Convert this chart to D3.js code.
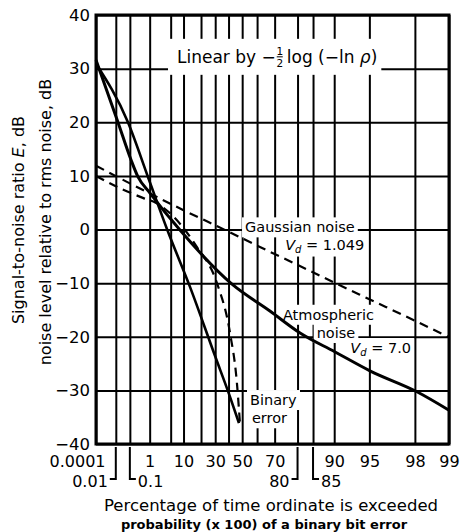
<!DOCTYPE html>
<html>
<head>
<meta charset="utf-8">
<script src="https://d3js.org/d3.v7.min.js"></script>
<style>
  body { margin: 0; background: #fff; }
  svg text { font-family: "DejaVu Sans", sans-serif; fill: #000; }
  .domain { display: none; }
</style>
</head>
<body>
<div id="chart"></div>
<script>
// percent values of the vertical grid lines
const gridPercents = [0.0001, 0.01, 0.1, 1, 5, 10, 20, 30, 40, 50, 60, 70, 80, 85, 90, 95, 98, 99];
const topTicks = [0.0001, 1, 10, 30, 50, 70, 90, 95, 98, 99];
const bracketTicks = [0.01, 0.1, 80, 85];
const bracketSide = ["left", "right", "left", "right"];
const dbTicks = [40, 30, 20, 10, 0, -10, -20, -30, -40];

// curves: [percent, dB]
const atmosNoise = [[0.0001, 31.6], [0.0149, 20.0], [0.117, 13.0], [0.289, 9.8], [1.03, 6.8],
  [8.4, -0.1], [42.6, -10.2], [67.5, -15.2], [80.9, -19.3], [90.1, -22.8], [95.1, -26.4],
  [98.1, -30.3], [99, -33.7]];
const binaryAtmos = [[0.0001, 30.9], [0.076, 20.0], [0.85, 9.8], [4.0, 0], [13.3, -10.7],
  [29.9, -23.6], [41.1, -31.2], [47.7, -36.1]];
const gaussNoise = [[0.0001, 11.9], [0.1, 8.6], [10, 3.6], [40, -0.4], [60, -3.0], [80, -6.6],
  [90, -9.9], [95, -13.0], [98, -17.0], [99, -20.1]];
const binaryGauss = [[0.0001, 10.0], [0.0213, 7.7], [0.5, 5.9], [1.85, 4.9], [17.2, -3.2],
  [31.3, -10.0], [41.1, -19.3], [46.2, -28.6], [48.4, -36.1]];

const W = 461, H = 532;
const margin = {left: 96, top: 15};
const w = 353, h = 429;

const svg = d3.select("#chart").append("svg").attr("width", W).attr("height", H);
const g = svg.append("g").attr("transform", "translate(" + margin.left + "," + margin.top + ")");

const rel = p => -0.5 * Math.log10(-Math.log(p / 100));
const xLin = d3.scaleLinear().domain([rel(0.0001), rel(99)]).range([0, w]);
const x = p => xLin(rel(p));
const y = d3.scaleLinear().domain([-40, 40]).range([h, 0]);

// grid
g.append("g")
  .call(d3.axisBottom(xLin).tickValues(gridPercents.map(rel)).tickSize(h).tickFormat(""))
  .selectAll("line").attr("stroke", "#000").attr("stroke-width", 2);
g.append("g")
  .call(d3.axisLeft(y).tickValues(dbTicks).tickSize(-w).tickFormat(""))
  .selectAll("line").attr("stroke", "#000").attr("stroke-width", 2);

// y tick labels
g.append("g")
  .call(d3.axisLeft(y).tickValues(dbTicks).tickSize(0).tickPadding(6)
    .tickFormat(d => d < 0 ? "\u2212" + (-d) : d))
  .selectAll("text").style("font-size", "16.5px");

// x tick labels, first row
const xt = g.append("g")
  .attr("transform", "translate(0," + h + ")")
  .call(d3.axisBottom(xLin).tickValues(topTicks.map(rel)).tickSize(0).tickPadding(12)
    .tickFormat((d, i) => topTicks[i]));
xt.selectAll("text").style("font-size", "16px");
xt.selectAll("text").filter((d, i) => i == 0).attr("dx", -19);

// bracketed ticks, second row
bracketTicks.forEach((p, i) => {
  const bx = x(p);
  const s = bracketSide[i] == "left" ? -1 : 1;
  g.append("path")
    .attr("d", "M" + bx + "," + (h + 3) + "V" + (h + 35) + "H" + (bx + s * 6))
    .attr("fill", "none").attr("stroke", "#000").attr("stroke-width", 2);
  g.append("text")
    .attr("x", bx + s * 8).attr("y", h + 43)
    .attr("text-anchor", s < 0 ? "end" : "start")
    .style("font-size", "16px")
    .text(p);
});

const boxLayer = g.append("g");
const curveLayer = g.append("g");
const textLayer = g.append("g");

function addBox(node, px, py) {
  const bb = node.getBBox();
  boxLayer.append("rect")
    .attr("x", bb.x - px).attr("y", bb.y - py)
    .attr("width", bb.width + 2 * px).attr("height", bb.height + 2 * py)
    .attr("fill", "#fff");
}

// "Linear by -1/2 log (-ln p)" with a stacked fraction
const lin = textLayer.append("g").attr("transform", "translate(" + x(7.2) + "," + y(32.2) + ")");
const t1 = lin.append("text").attr("y", 6).style("font-size", "17px").text("Linear by \u2212");
const w1 = t1.node().getComputedTextLength();
lin.append("text").attr("x", w1 + 4).attr("y", -2).attr("text-anchor", "middle")
  .style("font-size", "10.5px").text("1");
lin.append("line").attr("x1", w1 + 1).attr("x2", w1 + 7).attr("y1", 0).attr("y2", 0)
  .attr("stroke", "#000").attr("stroke-width", 1);
lin.append("text").attr("x", w1 + 4).attr("y", 10).attr("text-anchor", "middle")
  .style("font-size", "10.5px").text("2");
const t3 = lin.append("text").attr("x", w1 + 11).attr("y", 6).style("font-size", "17px");
t3.append("tspan").text(" log (\u2212ln ");
t3.append("tspan").style("font-style", "italic").text("\u03c1");
t3.append("tspan").text(")");
{
  const bb = lin.node().getBBox();
  boxLayer.append("rect")
    .attr("x", x(7.2) + bb.x - 9).attr("y", y(32.2) + bb.y - 6)
    .attr("width", bb.width + 13).attr("height", bb.height + 12)
    .attr("fill", "#fff");
}

// curve labels
const labels = [
  {p: 52, db: 0.4, parts: [["Gaussian noise", ""]]},
  {p: 75, db: -2.9, parts: [["V", "it"], ["d", "sub"], [" = 1.049", ""]]},
  {p: 74, db: -15.9, parts: [["Atmospheric", ""]]},
  {p: 86, db: -19.3, parts: [["noise", ""]]},
  {p: 92.7, db: -22.1, parts: [["V", "it"], ["d", "sub"], [" = 7.0", ""]]},
  {p: 55.4, db: -31.8, parts: [["Binary", ""]]},
  {p: 56.7, db: -35.2, parts: [["error", ""]]}
];
labels.forEach(l => {
  const t = textLayer.append("text")
    .attr("x", x(l.p)).attr("y", y(l.db))
    .attr("dominant-baseline", "central")
    .style("font-size", "14.5px");
  l.parts.forEach((pt, i) => {
    const ts = t.append("tspan").text(pt[0]);
    if (pt[1] == "it") ts.style("font-style", "italic");
    if (pt[1] == "sub") ts.attr("dy", 4).style("font-size", "10px").style("font-style", "italic");
    if (i > 0 && l.parts[i - 1][1] == "sub") ts.attr("dy", -4);
  });
  addBox(t.node(), 3, 2);
});

// curves
const line = d3.line().x(d => x(d[0])).y(d => y(d[1])).curve(d3.curveMonotoneX);
curveLayer.append("path").datum(atmosNoise).attr("d", line)
  .attr("fill", "none").attr("stroke", "#000").attr("stroke-width", 3);
curveLayer.append("path").datum(binaryAtmos).attr("d", line)
  .attr("fill", "none").attr("stroke", "#000").attr("stroke-width", 2.6);
curveLayer.append("path").datum(gaussNoise).attr("d", line)
  .attr("fill", "none").attr("stroke", "#000").attr("stroke-width", 2.2)
  .attr("stroke-dasharray", "9,6");
curveLayer.append("path").datum(binaryGauss).attr("d", line)
  .attr("fill", "none").attr("stroke", "#000").attr("stroke-width", 2.2)
  .attr("stroke-dasharray", "9,6");

// frame
g.append("rect").attr("width", w).attr("height", h)
  .attr("fill", "none").attr("stroke", "#000").attr("stroke-width", 3);

// axis titles
svg.append("text")
  .attr("x", 271).attr("y", 511)
  .attr("text-anchor", "middle")
  .style("font-size", "16.5px")
  .text("Percentage of time ordinate is exceeded");
svg.append("text")
  .attr("x", 264).attr("y", 529)
  .attr("text-anchor", "middle")
  .style("font-size", "13px").style("font-weight", "bold")
  .text("probability (x 100) of a binary bit error");

const yt = svg.append("text")
  .attr("transform", "translate(24,220) rotate(-90)")
  .attr("text-anchor", "middle")
  .style("font-size", "16px");
yt.append("tspan").text("Signal-to-noise ratio ");
yt.append("tspan").style("font-style", "italic").text("E");
yt.append("tspan").text(", dB");
svg.append("text")
  .attr("transform", "translate(51,222) rotate(-90)")
  .attr("text-anchor", "middle")
  .style("font-size", "16px")
  .text("noise level relative to rms noise, dB");
</script>
</body>
</html>
